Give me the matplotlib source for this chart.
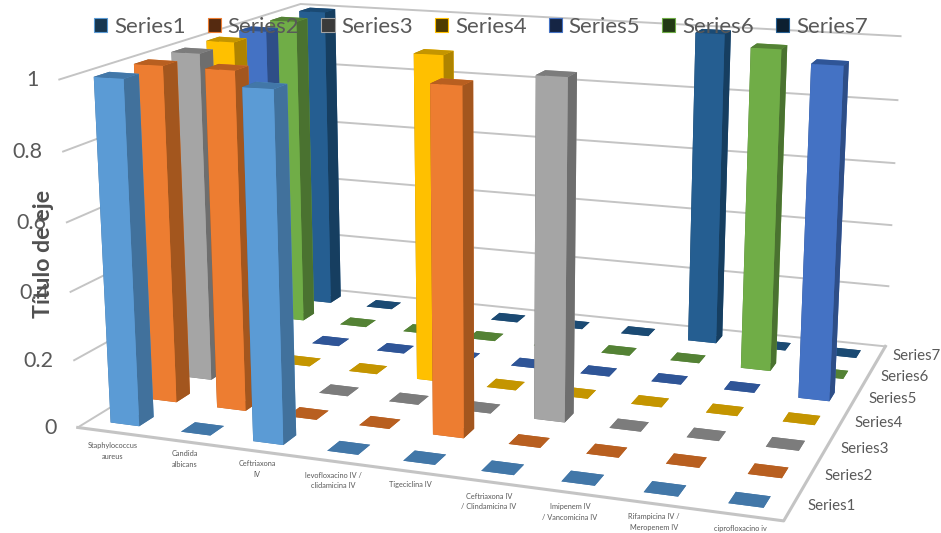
import numpy as np
import matplotlib
matplotlib.use("Agg")
import matplotlib.pyplot as plt
from matplotlib.patches import Patch
from mpl_toolkits.mplot3d import proj3d

categories = ["Staphylococcus\naureus", "Candida\nalbicans", "Ceftriaxona\nIV",
              "levofloxacino IV /\nclidamicina IV", "Tigeciclina IV",
              "Ceftriaxona IV\n/ Clindamicina IV", "Imipenem IV\n/ Vancomicina IV",
              "Rifampicina IV /\nMeropenem IV", "ciprofloxacino iv"]
series_names = ["Series1", "Series2", "Series3", "Series4", "Series5", "Series6", "Series7"]
series1 = [1, 0, 1, 0, 0, 0, 0, 0, 0]
series2 = [1, 1, 0, 0, 1, 0, 0, 0, 0]
series3 = [1, 0, 0, 0, 0, 1, 0, 0, 0]
series4 = [1, 0, 0, 1, 0, 0, 0, 0, 0]
series5 = [1, 0, 0, 0, 0, 0, 0, 0, 1]
series6 = [1, 0, 0, 0, 0, 0, 0, 1, 0]
series7 = [1, 0, 0, 0, 0, 0, 1, 0, 0]
all_series = [series1, series2, series3, series4, series5, series6, series7]
z_ticks = [0, 0.2, 0.4, 0.6, 0.8, 1]
z_labels = ["0", "0.2", "0.4", "0.6", "0.8", "1"]

front = ["#5B9BD5", "#ED7D31", "#A5A5A5", "#FFC000", "#4472C4", "#70AD47", "#255E91"]
side = ["#41719C", "#A3561E", "#6E6E6E", "#AE8300", "#2E4E87", "#4A7230", "#163E60"]
top = ["#4277A8", "#B85F20", "#7C7C7C", "#C49500", "#2F5597", "#548235", "#1B4A73"]
legend_cols = ["#163650", "#552A10", "#3A3A3A", "#4F3C00", "#152544", "#223A15", "#0C1F30"]

# label spots in pixels from the top-left of the picture
cat_px = [(113, 451), (185, 459), (257, 469), (333, 480.5), (410, 485),
          (489, 501.5), (570, 512), (654, 522), (740, 529)]
ser_px = [(807, 506), (824, 476), (840, 449), (854, 423), (868, 399), (880, 377), (892, 356)]

W, H = 941, 533
nx, ny = len(categories), len(series_names)
plt.rcParams["font.family"] = ["Lato", "DejaVu Sans"]

fig = plt.figure(figsize=(W / 100, H / 100), dpi=100)
ax = fig.add_axes([0, 0, 1, 1], projection="3d", computed_zorder=False)
ax.set_xlim(0, nx); ax.set_ylim(0, ny); ax.set_zlim(0, 1)

# camera fitted to the corners of the reference box
ax.set_proj_type("persp", focal_length=1)
ax.view_init(14.231, -70.428, -0.070)
ax.set_box_aspect((np.exp(0.708), np.exp(0.429), 1), zoom=np.exp(0.860))
s = 2054.1
v = ax.viewLim
ax.set_position([(506.0 + s * v.x0) / W, (309.2 + s * v.y0) / H, s * v.width / W, s * v.height / H])
ax.set_axis_off()
ax.patch.set_alpha(0)

grid = "#C4C4C4"
for z in z_ticks:
    ax.plot([0, 0, nx], [0, ny, ny], [z, z, z], color=grid, lw=1.4, zorder=1)
ax.plot([0, nx, nx], [0, 0, ny], [0, 0, 0], color=grid, lw=2.2, zorder=1)

bw, bd = 0.41, 0.38
for j in range(ny - 1, -1, -1):
    for i in range(nx):
        val = all_series[j][i]
        cols = [top[j], top[j], front[j], front[j], side[j], side[j]]
        ax.bar3d(i + .5 - bw / 2, j + .5 - bd / 2, 0, bw, bd, val, color=cols, shade=False,
                 zorder=10 + (ny - j) * 20 + i)

# the square 3d axes is smaller than the drawing, so no clipping
for art in list(ax.collections) + list(ax.lines):
    art.set_clip_on(False)

# value labels sit a fixed distance left of the wall corner
M = ax.get_proj()
for z, lab in zip(z_ticks, z_labels):
    u, w, _ = proj3d.proj_transform(0, 0, z, M)
    ax.annotate(lab, xy=(u, w), xytext=(-15, -0.7), textcoords="offset points", ha="right",
                va="center", fontsize=15.5, color="#595959", annotation_clip=False, zorder=900)

for c, (px, py) in zip(categories, cat_px):
    fig.text(px / W, 1 - py / H, c, ha="center", va="center", fontsize=5.3, color="#595959",
             linespacing=1.55)
for n, (px, py) in zip(series_names, ser_px):
    fig.text(px / W, 1 - py / H, n, ha="left", va="center", fontsize=10.8, color="#595959")

handles = [Patch(facecolor=legend_cols[k], edgecolor=front[k], lw=0.8) for k in range(ny)]
fig.legend(handles, series_names, ncol=ny, loc="center", bbox_to_anchor=(0.511, 1 - 27 / H),
           frameon=False, fontsize=16, labelcolor="#595959", handlelength=0.6, handleheight=0.6,
           handletextpad=0.3, columnspacing=0.99)
fig.text(43 / W, 1 - 254 / H, "Título de eje", rotation=90, ha="center", va="center",
         fontsize=16.7, fontweight="bold", color="#505050")
fig.savefig("out.png", dpi=100)
